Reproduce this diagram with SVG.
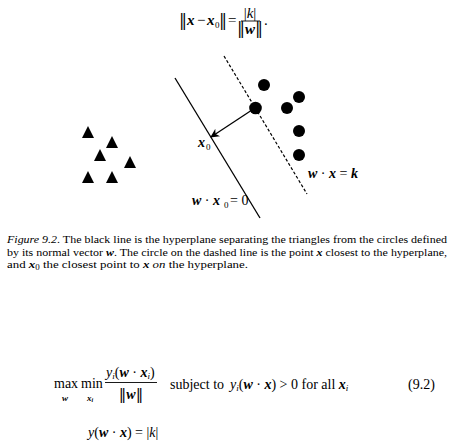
<svg xmlns="http://www.w3.org/2000/svg" width="453" height="443" viewBox="0 0 453 443">
<style>
text{font-family:"Liberation Serif","Times New Roman",serif;fill:#000}
.m{font-size:15px}
.e{font-size:14px}
.c{font-size:10.8px}
.v{font-weight:bold;font-style:italic}
.i{font-style:italic}
.s{font-size:9px}
.nb{font-family:"DejaVu Serif","Liberation Serif",serif;font-weight:normal;font-style:normal}
.ln{stroke:#000;stroke-width:1.3;fill:none}
.dash{stroke:#000;stroke-width:1.2;stroke-dasharray:3 2;fill:none}
.bar{stroke:#000;stroke-width:0.9}
</style>
<defs>
<marker id="ah" viewBox="0 0 10 10" refX="9" refY="5" markerWidth="9" markerHeight="9" markerUnits="userSpaceOnUse" orient="auto">
<path d="M0,0 L10,5 L0,10 L3,5 z" fill="#000"/>
</marker>
<path id="tri" d="M0,-7 L6,5 L-6,5 z" fill="#000"/>
</defs>

<!-- top formula -->
<g id="formula-top">
<text class="nb" font-size="16" x="179" y="26">‖</text>
<text class="m v" x="187" y="25">x</text>
<text class="m" x="197" y="25">−</text>
<text class="m v" x="207" y="25">x</text>
<text class="s" x="215" y="28">0</text>
<text class="nb" font-size="16" x="219" y="26">‖</text>
<text class="m" x="228" y="25">=</text>
<text class="m" x="250" y="18" text-anchor="middle">|<tspan class="i">k</tspan>|</text>
<line class="bar" x1="241" y1="21" x2="260" y2="21"/>
<text class="m" x="250" y="34" text-anchor="middle"><tspan class="nb" font-size="16">‖</tspan><tspan class="v">w</tspan><tspan class="nb" font-size="16">‖</tspan></text>
<text class="m" x="264" y="25">.</text>
</g>

<!-- triangles -->
<g id="triangles">
<use href="#tri" x="88" y="133"/>
<use href="#tri" x="112" y="143"/>
<use href="#tri" x="100" y="156"/>
<use href="#tri" x="130" y="163"/>
<use href="#tri" x="88" y="178"/>
<use href="#tri" x="112" y="178"/>
</g>

<!-- circles -->
<g id="circles">
<circle cx="264" cy="85" r="6"/>
<circle cx="299" cy="97" r="6"/>
<circle cx="287" cy="108" r="6"/>
<circle cx="299" cy="131" r="6"/>
<circle cx="299" cy="155" r="6"/>
</g>
<g id="point-x">
<circle cx="255.5" cy="108" r="6.3"/>
</g>

<!-- connectors -->
<g id="connectors">
<line id="hyperplane" class="ln" x1="175" y1="78" x2="260" y2="218"/>
<line id="margin" class="dash" x1="224" y1="56" x2="307" y2="194"/>
<line id="normal" class="ln" x1="255" y1="108" x2="211" y2="137" marker-end="url(#ah)"/>
</g>

<!-- labels -->
<g id="label-x0">
<text class="e v" x="198" y="147">x</text>
<text class="s" x="206" y="150">0</text>
</g>
<g id="label-hyperplane">
<text class="e" x="192" y="205"><tspan class="v">w</tspan> · <tspan class="v">x</tspan></text>
<text class="s" x="224" y="208">0</text>
<text class="e" x="230" y="205">= 0</text>
</g>
<g id="label-margin">
<text class="e" x="308" y="178"><tspan class="v">w</tspan> · <tspan class="v">x</tspan> = <tspan class="v">k</tspan></text>
</g>

<!-- caption -->
<g id="caption">
<text class="c" x="7" y="243" textLength="440" lengthAdjust="spacingAndGlyphs"><tspan class="i">Figure 9.2</tspan>. The black line is the hyperplane separating the triangles from the circles defined</text>
<text class="c" x="7" y="255.5" textLength="440" lengthAdjust="spacingAndGlyphs">by its normal vector <tspan class="v">w</tspan>. The circle on the dashed line is the point <tspan class="v">x</tspan> closest to the hyperplane,</text>
<text class="c" x="7" y="268" textLength="241" lengthAdjust="spacingAndGlyphs">and <tspan class="v">x</tspan><tspan font-size="7.5" dy="1.5">0</tspan><tspan dy="-1.5"> the closest point to </tspan><tspan class="v">x</tspan> <tspan class="i">on</tspan> the hyperplane.</text>
</g>

<!-- equation 9.2 -->
<g id="equation">
<text class="e" x="54" y="388">max</text>
<text class="s v" x="62" y="401">w</text>
<text class="e" x="81" y="388">min</text>
<text class="s v" x="87" y="401">x<tspan font-size="6" dy="1">i</tspan></text>
<text class="e" x="106" y="377"><tspan class="i">y</tspan><tspan class="i" font-size="9" dy="2">i</tspan><tspan dy="-2">(</tspan><tspan class="v">w</tspan> · <tspan class="v">x</tspan><tspan class="i" font-size="9" dy="2">i</tspan><tspan dy="-2">)</tspan></text>
<line class="bar" x1="105" y1="382.5" x2="157" y2="382.5"/>
<text class="e" x="131" y="399" text-anchor="middle"><tspan class="nb" font-size="15">‖</tspan><tspan class="v">w</tspan><tspan class="nb" font-size="15">‖</tspan></text>
<text class="e" x="170" y="389">subject to</text>
<text class="e" x="230" y="389"><tspan class="i">y</tspan><tspan class="i" font-size="9" dy="2">i</tspan><tspan dy="-2">(</tspan><tspan class="v">w</tspan> · <tspan class="v">x</tspan>) &gt; 0 for all <tspan class="v">x</tspan><tspan class="i" font-size="9" dy="2">i</tspan></text>
<text class="e" x="408" y="389">(9.2)</text>
<text class="e" x="88" y="437"><tspan class="i">y</tspan>(<tspan class="v">w</tspan> · <tspan class="v">x</tspan>) = |<tspan class="i">k</tspan>|</text>
</g>
</svg>
